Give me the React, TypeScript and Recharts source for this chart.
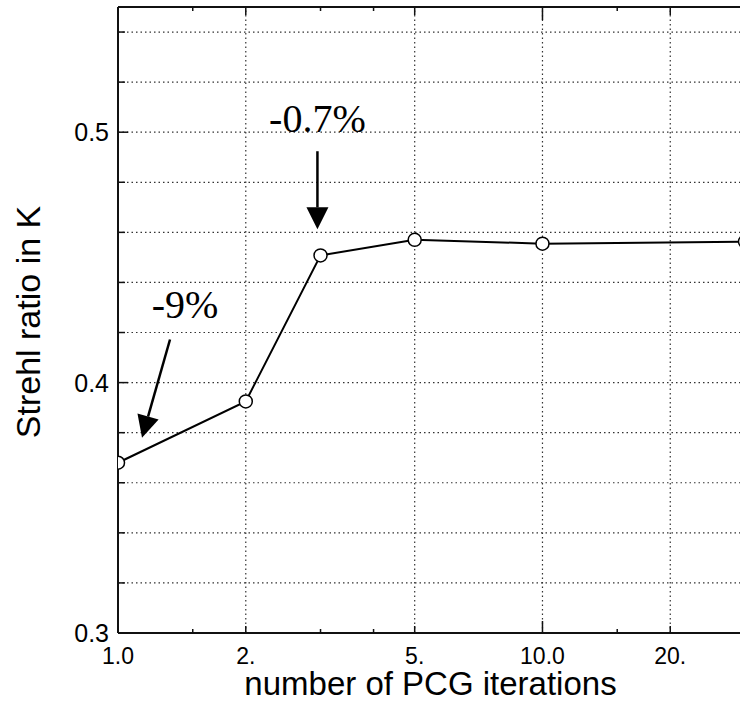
import { LineChart, Line, XAxis, YAxis, ReferenceLine } from 'recharts';

// values
const iterations = [1, 2, 3, 5, 10, 30];
const strehl = [0.368, 0.3925, 0.4508, 0.457, 0.4555, 0.4563];

const xTicks = [1, 1.5, 2, 3, 4, 5, 10, 15, 20];
const xMajor = [1, 2, 5, 10, 20];
const xMajorLabels = ['1.0', '2.', '5.', '10.0', '20.'];
const xGrid = [2, 5, 10, 20];

const yTicks = [0.3, 0.32, 0.34, 0.36, 0.38, 0.4, 0.42, 0.44, 0.46, 0.48, 0.5, 0.52, 0.54];
const yMajor = [0.3, 0.4, 0.5];
const yMajorLabels = ['0.3', '0.4', '0.5'];
const yGrid = [0.32, 0.34, 0.36, 0.38, 0.4, 0.42, 0.44, 0.46, 0.48, 0.5, 0.52, 0.54];

const annotationText = ['-0.7%', '-9%'];
const annotationFrom = [{ x: 2.95, y: 0.4924 }, { x: 1.326, y: 0.4172 }];
const annotationTo = [{ x: 2.95, y: 0.4612 }, { x: 1.139, y: 0.378 }];

const data = iterations.map((n, i) => ({ n, s: strehl[i] }));

const SANS = '"Liberation Sans", Arial, Helvetica, sans-serif';
const SERIF = '"Liberation Serif", "Times New Roman", serif';
const INK = '#111';

const labelOf = (v: number, vals: number[], labels: string[]) => {
    const i = vals.findIndex((m) => Math.abs(m - v) < 1e-9);
    return i >= 0 ? labels[i] : null;
};

function BottomTick(props: any) {
    const { x, y, payload } = props;
    const v = payload.value;
    const label = labelOf(v, xMajor, xMajorLabels);
    const len = v === 10 ? 12 : label ? 7 : 4;
    return (
        <g>
            <line x1={x} y1={y} x2={x} y2={y - len} stroke={INK} strokeWidth={1.5} />
            {label && (
                <text x={x} y={y + 31} textAnchor="middle" fontSize={23} fontFamily={SANS} fill="#000">
                    {label}
                </text>
            )}
        </g>
    );
}

function TopTick(props: any) {
    const { x, y, payload } = props;
    const v = payload.value;
    const major = labelOf(v, xMajor, xMajorLabels);
    const len = v === 10 ? 13 : major ? 8 : 4;
    return <line x1={x} y1={y} x2={x} y2={y + len} stroke={INK} strokeWidth={1.5} />;
}

function LeftTick(props: any) {
    const { x, y, payload } = props;
    const label = labelOf(payload.value, yMajor, yMajorLabels);
    const len = label ? 10 : 7;
    return (
        <g>
            <line x1={x} y1={y} x2={x + len} y2={y} stroke={INK} strokeWidth={1.5} />
            {label && (
                <text x={x - 9} y={y} dy="0.36em" textAnchor="end" fontSize={25} fontFamily={SANS} fill="#000">
                    {label}
                </text>
            )}
        </g>
    );
}

function arrowShape(text: string, dx: number, dy: number) {
    return (props: any) => {
        const { x1, y1, x2, y2 } = props;
        const len = Math.hypot(x2 - x1, y2 - y1);
        const ux = (x2 - x1) / len;
        const uy = (y2 - y1) / len;
        const head = 22;
        const half = 11;
        const bx = x2 - ux * head;
        const by = y2 - uy * head;
        const pts = `${x2},${y2} ${bx - uy * half},${by + ux * half} ${bx + uy * half},${by - ux * half}`;
        return (
            <g>
                <text x={x1 + dx} y={y1 + dy} textAnchor="middle" fontSize={40} fontFamily={SERIF} fill="#000">
                    {text}
                </text>
                <line x1={x1} y1={y1} x2={bx} y2={by} stroke="#000" strokeWidth={2.5} />
                <polygon points={pts} fill="#000" />
            </g>
        );
    };
}

const textOffsets = [{ dx: 0, dy: -19 }, { dx: 15, dy: -22 }];

export default function App() {
    return (
        <div style={{ position: 'absolute', left: 0, top: 0, width: 740, height: 707, overflow: 'hidden', background: '#fff' }}>
            <LineChart width={748} height={707} data={data} margin={{ top: 0, right: 3, bottom: 0, left: 18 }}>
                <XAxis
                    dataKey="n"
                    type="number"
                    scale="log"
                    domain={[1, 30]}
                    allowDataOverflow
                    ticks={xTicks}
                    interval={0}
                    tickSize={0}
                    tickMargin={0}
                    tickLine={false}
                    tick={<BottomTick />}
                    axisLine={{ stroke: INK, strokeWidth: 2 }}
                    height={74}
                    label={(p: any) => {
                        const vb = p.viewBox;
                        return (
                            <text x={vb.x + vb.width / 2 - 1} y={vb.y + 62} textAnchor="middle" fontSize={33} fontFamily={SANS} fill="#000">
                                number of PCG iterations
                            </text>
                        );
                    }}
                />
                <XAxis
                    xAxisId="top"
                    orientation="top"
                    dataKey="n"
                    type="number"
                    scale="log"
                    domain={[1, 30]}
                    allowDataOverflow
                    ticks={xTicks}
                    interval={0}
                    tickSize={0}
                    tickMargin={0}
                    tickLine={false}
                    tick={<TopTick />}
                    axisLine={{ stroke: INK, strokeWidth: 2 }}
                    height={7}
                />
                <YAxis
                    type="number"
                    domain={[0.3, 0.55]}
                    allowDataOverflow
                    ticks={yTicks}
                    interval={0}
                    tickSize={0}
                    tickMargin={0}
                    tickLine={false}
                    tick={<LeftTick />}
                    axisLine={{ stroke: INK, strokeWidth: 2 }}
                    width={100}
                    label={(p: any) => {
                        const vb = p.viewBox;
                        const cy = vb.y + vb.height / 2 + 2;
                        return (
                            <text x={40} y={cy} transform={`rotate(-90, 40, ${cy})`} textAnchor="middle" fontSize={34} fontFamily={SANS} fill="#000">
                                Strehl ratio in K
                            </text>
                        );
                    }}
                />
                {yGrid.map((v) => (
                    <ReferenceLine key={`h${v}`} y={v} stroke="#333" strokeWidth={1.2} strokeDasharray="1.5 3" />
                ))}
                {xGrid.map((v) => (
                    <ReferenceLine key={`v${v}`} x={v} stroke="#333" strokeWidth={1.2} strokeDasharray="1.5 3" />
                ))}
                <Line
                    dataKey="s"
                    stroke="#000"
                    strokeWidth={2}
                    dot={{ r: 6.5, fill: '#fff', stroke: '#000', strokeWidth: 1.5 }}
                    isAnimationActive={false}
                />
                {annotationText.map((t, i) => (
                    <ReferenceLine
                        key={t}
                        segment={[annotationFrom[i], annotationTo[i]]}
                        shape={arrowShape(t, textOffsets[i].dx, textOffsets[i].dy)}
                    />
                ))}
            </LineChart>
        </div>
    );
}
